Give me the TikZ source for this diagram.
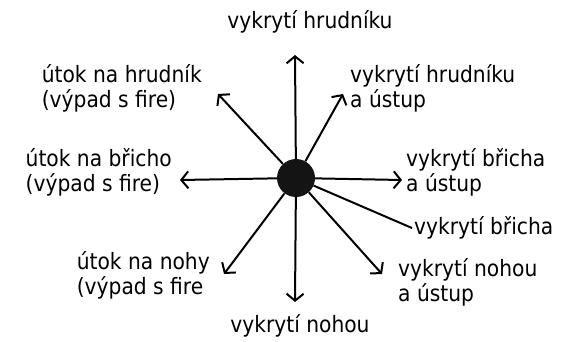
\documentclass[tikz,border=0pt]{standalone}
\usepackage{fontspec}
\setmainfont{DejaVu Sans Condensed}
\usetikzlibrary{arrows.meta}
\begin{document}
\begin{tikzpicture}[x=1pt,y=-1pt,
  arr/.style={line width=2pt,-{Straight Barb[length=7pt,width=17pt,line width=2pt]}},
  plain/.style={line width=2pt},
  lbl/.style={font=\fontsize{22.5}{25}\selectfont,inner sep=0pt,align=left},
  hub/.style={circle,fill=black!92,minimum size=38pt,inner sep=0pt}]
\useasboundingbox (0,0) rectangle (576,341);
\node[hub] (c) at (296,178) {};
\coordinate (tU) at (295,55);
\coordinate (tUR) at (343,94);
\coordinate (tUL) at (218,94);
\coordinate (tL) at (180,180);
\coordinate (tR) at (402,180);
\coordinate (tDR) at (412,228);
\coordinate (tLR) at (382,274);
\coordinate (tD) at (295,302);
\coordinate (tLL) at (224,274);
\draw[arr] (c) -- (tU);
\draw[arr] (c) -- (tUR);
\draw[arr] (c) -- (tUL);
\draw[arr] (c) -- (tL);
\draw[arr] (c) -- (tR);
\draw[plain] (c) -- (tDR);
\draw[arr] (c) -- (tLR);
\draw[arr] (c) -- (tD);
\draw[arr] (c) -- (tLL);
\node[lbl,anchor=center] (lU) at (310,22) {vykrytí hrudníku};
\node[lbl,anchor=west] (lUR) at (350,88) {vykrytí hrudníku\\a ústup};
\node[lbl,anchor=east] (lUL) at (202,88) {útok na hrudník\\(výpad s fire)};
\node[lbl,anchor=east] (lL) at (172,172) {útok na břicho\\(výpad s fire)};
\node[lbl,anchor=west] (lR) at (406,172) {vykrytí břicha\\a ústup};
\node[lbl,anchor=west] (lDR) at (414,228) {vykrytí břicha};
\node[lbl,anchor=west] (lLR) at (398,282) {vykrytí nohou\\a ústup};
\node[lbl,anchor=center] (lD) at (300,326) {vykrytí nohou};
\node[lbl,anchor=east] (lLL) at (210,275) {útok na nohy\\(výpad s fire};
\end{tikzpicture}
\end{document}
